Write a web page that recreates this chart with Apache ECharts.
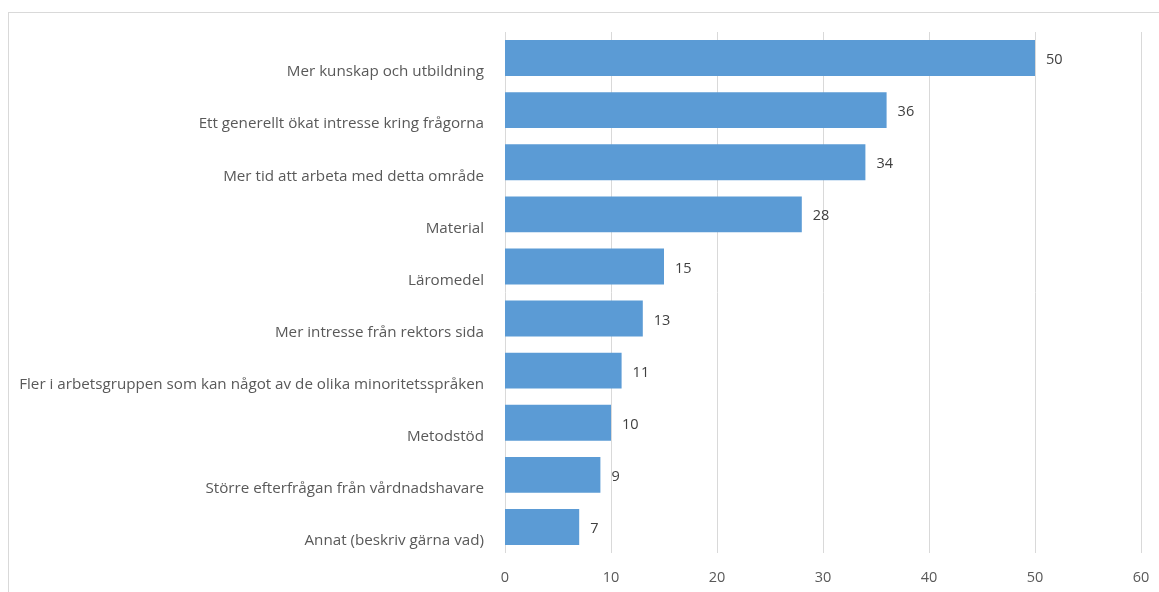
<!DOCTYPE html>
<html><head><meta charset="utf-8">
<script src="https://cdn.jsdelivr.net/npm/echarts@6/dist/echarts.min.js"></script>
<style>html,body{margin:0;padding:0;background:#fff}#c{width:1159px;height:592px;position:relative}
#frame{position:absolute;left:8px;top:12px;width:1160px;height:600px;border:1.5px solid #d9d9d9;box-sizing:border-box;pointer-events:none}</style>
</head><body><div id="c"></div><div id="frame"></div>
<script>
const categories = [
  "Mer kunskap och utbildning",
  "Ett generellt ökat intresse kring frågorna",
  "Mer tid att arbeta med detta område",
  "Material",
  "Läromedel",
  "Mer intresse från rektors sida",
  "Fler i arbetsgruppen som kan något av de olika minoritetsspråken",
  "Metodstöd",
  "Större efterfrågan från vårdnadshavare",
  "Annat (beskriv gärna vad)"
];
const values = [50, 36, 34, 28, 15, 13, 11, 10, 9, 7];
const xTicks = [0, 10, 20, 30, 40, 50, 60];

const chart = echarts.init(document.getElementById('c'));
const font = "'Open Sans', sans-serif";
chart.setOption({
  animation: false,
  textStyle: {fontFamily: font},
  grid: {left: 505, right: 18, top: 32, bottom: 39, containLabel: false},
  xAxis: {
    type: 'value', min: xTicks[0], max: xTicks[xTicks.length-1], interval: 10,
    axisLine: {show: false}, axisTick: {show: false},
    splitLine: {lineStyle: {color: '#d9d9d9', width: 1}},
    axisLabel: {color: '#595959', fontSize: 14.5, margin: 17, fontFamily: font}
  },
  yAxis: {
    type: 'category', data: categories, inverse: true,
    axisLine: {show: false}, axisTick: {show: false},
    axisLabel: {color: '#595959', fontSize: 15.2, margin: 21, fontFamily: font,
      interval: 0, showMinLabel: true, showMaxLabel: true, hideOverlap: false,
      lineHeight: 28, formatter: v => '\n' + v}
  },
  series: [{
    type: 'bar', data: values, barCategoryGap: '31%',
    itemStyle: {color: '#5B9BD5'},
    label: {show: true, position: 'right', distance: 11, offset: [0, 2], color: '#404040', fontSize: 14.5, fontFamily: font}
  }]
});
</script></body></html>
